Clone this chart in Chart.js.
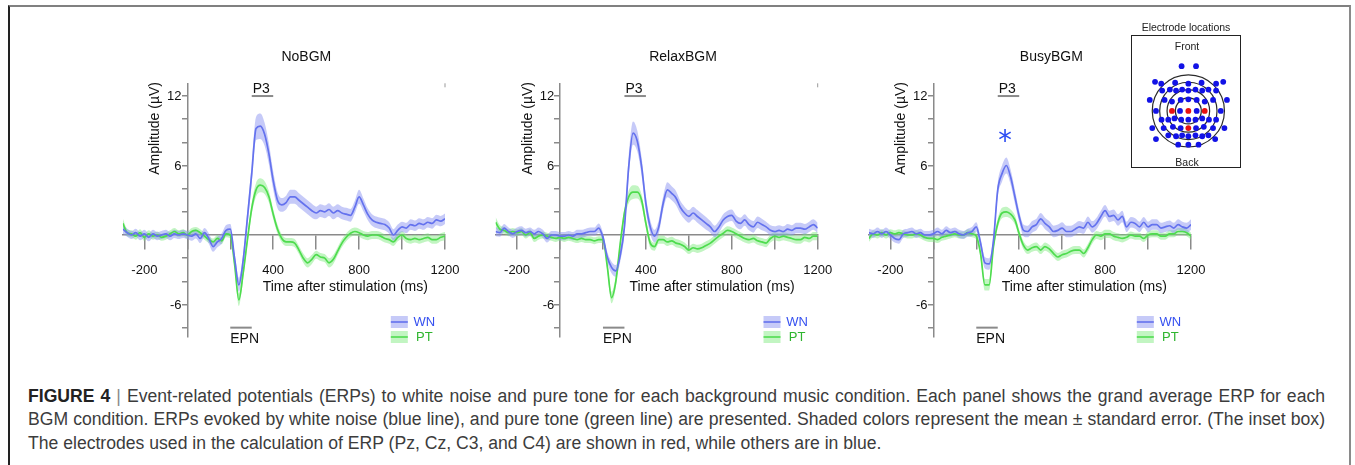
<!DOCTYPE html>
<html><head><meta charset="utf-8">
<script src="https://cdn.jsdelivr.net/npm/chart.js@4.4.1/dist/chart.umd.min.js"></script>
<style>
html,body{margin:0;padding:0;background:#fff;}
body{width:1355px;height:465px;overflow:hidden;position:relative;font-family:"Liberation Sans",Arial,sans-serif;}
#frame{position:absolute;left:8px;top:5px;width:1343px;height:480px;border-top:2px solid #808080;border-left:2px solid #222;border-right:2px solid #8a8a8a;box-sizing:border-box;}
canvas{position:absolute;}
#inset{position:absolute;left:1131px;top:35px;width:110px;height:133px;border:1.5px solid #222;box-sizing:border-box;background:#fff;}
.it{position:absolute;font-size:10.5px;color:#222;transform:translateX(-50%);white-space:nowrap;}
#caption{position:absolute;left:28px;top:385px;width:1297px;font-size:17.6px;line-height:23.3px;color:#3c3c3c;}
#caption div{white-space:nowrap;}
.j{text-align:justify;text-align-last:justify;}
</style></head>
<body>
<div id="frame"></div>
<canvas id="c0"></canvas><canvas id="c1"></canvas><canvas id="c2"></canvas>
<div class="it" style="left:1186px;top:21px;">Electrode locations</div>
<div id="inset"></div>
<canvas id="ci"></canvas>
<div class="it" style="left:1187px;top:40px;">Front</div>
<div class="it" style="left:1187px;top:156px;">Back</div>
<div id="caption">
<div class="j"><b style="color:#222">FIGURE 4</b> <span style="color:#888">|</span> Event-related potentials (ERPs) to white noise and pure tone for each background music condition. Each panel shows the grand average ERP for each</div>
<div class="j">BGM condition. ERPs evoked by white noise (blue line), and pure tone (green line) are presented. Shaded colors represent the mean ± standard error. (The inset box)</div>
<div>The electrodes used in the calculation of ERP (Pz, Cz, C3, and C4) are shown in red, while others are in blue.</div>
</div>
<script>
// ---------------- DATA ----------------
const times = [-300,-280,-260,-240,-220,-200,-180,-160,-140,-120,
 -100,-80,-60,-40,-20,0,20,40,60,80,
 100,120,140,160,180,200,220,240,260,280,
 300,320,340,360,380,400,420,440,460,480,
 500,520,540,560,580,600,620,640,660,680,
 700,720,740,760,780,800,820,840,860,880,
 900,920,940,960,980,1000,1020,1040,1060,1080,
 1100,1120,1140,1160,1180,1200];

const conditions = ['NoBGM','RelaxBGM','BusyBGM'];
const seriesNames = ['WN','PT'];

const noWN = [0.5,0.2,0.0,0.2,-0.1,0.1,-0.2,0.1,-0.1,0.0,
 0.1,-0.1,0.1,0.0,0.1,0.0,-0.1,0.1,-0.3,0.2,
 -0.3,-1.0,-0.6,-0.3,0.4,0.5,-2.0,-4.3,-2.2,1.5,
 5.3,9.2,9.4,8.7,7.0,4.7,3.0,2.6,2.8,3.3,
 3.3,3.0,2.7,2.4,2.1,1.9,2.1,2.0,2.2,1.9,
 2.1,1.9,1.8,1.7,2.4,3.3,2.6,1.8,1.3,1.1,
 1.0,0.9,0.6,0.0,0.4,0.7,0.6,0.9,0.8,1.0,
 0.9,1.1,1.0,1.3,1.2,1.4];
const noPT = [1.0,0.2,0.1,-0.1,0.2,-0.2,0.1,-0.1,0.0,-0.2,
 -0.1,0.1,0.3,0.1,0.2,0.0,0.3,0.4,0.2,-0.1,
 -0.4,-0.6,-0.3,-0.5,0.1,0.0,-2.5,-5.6,-3.3,-0.4,
 2.3,3.9,4.3,4.1,3.3,1.8,0.5,-0.3,-0.6,-0.6,
 -0.7,-1.3,-2.0,-2.4,-2.1,-1.7,-1.9,-2.0,-2.4,-2.1,
 -1.4,-0.7,-0.2,0.15,0.3,0.2,0.0,-0.1,0.0,0.0,
 -0.1,-0.3,-0.4,-0.6,-0.2,0.0,-0.3,-0.4,-0.3,-0.4,
 -0.3,-0.2,-0.4,-0.4,-0.2,-0.1];
const relaxWN = [0.3,0.2,0.6,0.3,0.1,0.3,0.4,0.2,0.3,0.1,
 0.3,0.1,-0.3,0.0,0.0,-0.1,-0.1,0.0,-0.1,0.1,
 0.1,0.2,0.3,0.3,0.6,-0.2,-1.9,-2.8,-3.1,-1.8,
 0.7,5.9,8.8,8.1,5.9,2.7,0.7,-0.1,0.7,2.7,
 3.9,3.6,3.2,2.4,1.9,1.6,1.9,1.6,1.3,1.0,
 0.7,0.3,0.7,1.3,1.6,1.7,1.2,1.0,1.3,0.9,
 0.7,1.1,0.9,0.7,0.4,0.3,0.4,0.3,0.5,0.4,
 0.6,0.6,0.5,0.7,0.9,0.6];
const relaxPT = [1.1,0.5,0.4,0.2,0.3,0.2,0.3,0.0,0.2,-0.3,
 -0.1,0.0,-0.1,-0.2,-0.3,-0.2,-0.3,-0.2,-0.3,-0.4,
 -0.3,-0.4,-0.4,-0.5,-0.4,-0.4,-2.7,-5.4,-4.0,-0.8,
 1.9,3.3,3.7,3.7,3.0,1.0,-0.7,-1.0,-0.4,-0.4,
 -0.6,-0.5,-0.7,-0.8,-1.0,-1.3,-1.1,-1.2,-1.1,-0.9,
 -0.7,-0.4,-0.1,0.15,0.4,0.3,0.1,-0.1,-0.3,-0.4,
 -0.3,-0.5,-0.6,-0.7,-0.3,-0.1,-0.2,-0.1,-0.2,-0.3,
 -0.4,-0.4,-0.2,-0.3,-0.1,-0.1];
const busyWN = [0.2,0.1,0.3,0.1,0.3,0.0,-0.3,-0.4,0.1,0.2,
 0.3,0.1,0.2,0.0,0.0,0.1,0.3,0.1,0.4,0.2,
 0.3,0.1,0.0,0.2,0.3,0.7,-0.7,-2.4,-2.5,-0.5,
 3.9,5.3,6.0,5.0,3.3,1.6,0.4,0.3,0.7,0.9,
 1.4,1.0,0.7,0.3,0.4,0.6,0.3,0.3,0.5,0.7,
 0.6,1.1,0.7,1.0,1.6,2.1,1.6,1.7,1.3,1.6,
 0.7,1.1,1.0,0.7,1.1,0.7,0.9,0.9,0.6,0.7,
 0.8,0.6,0.9,0.7,0.6,0.9];
const busyPT = [-0.3,0.1,0.0,0.2,0.0,0.2,0.1,0.2,0.1,0.0,
 0.0,0.1,0.0,-0.2,-0.3,-0.3,-0.4,-0.2,-0.1,0.0,
 0.1,0.0,0.0,0.2,0.1,-0.1,-1.6,-4.3,-4.3,-1.0,
 1.0,1.9,2.0,1.8,1.3,0.1,-0.9,-1.3,-1.1,-1.0,
 -1.3,-1.0,-1.2,-1.6,-1.9,-1.7,-1.6,-1.4,-1.3,-1.3,
 -1.6,-1.1,-0.4,0.0,-0.1,0.1,0.1,-0.1,-0.2,-0.3,
 -0.2,0.0,-0.1,-0.1,-0.3,0.0,0.1,0.1,-0.1,-0.1,
 0.1,0.1,0.3,0.3,0.2,-0.1];

// standard errors
const noWNse = [0.4,0.35,0.35,0.35,0.35,0.35,0.35,0.35,0.35,0.35,
 0.35,0.35,0.35,0.35,0.35,0.35,0.4,0.4,0.4,0.4,
 0.45,0.45,0.45,0.45,0.45,0.45,0.5,0.6,0.6,0.7,
 0.9,1.0,1.1,1.0,0.9,0.8,0.7,0.6,0.6,0.6,
 0.6,0.6,0.6,0.6,0.6,0.55,0.55,0.55,0.55,0.55,
 0.55,0.55,0.55,0.55,0.55,0.6,0.55,0.5,0.5,0.5,
 0.5,0.5,0.5,0.5,0.5,0.45,0.45,0.45,0.45,0.45,
 0.45,0.45,0.45,0.45,0.45,0.45];
const noPTse = [0.4,0.3,0.3,0.3,0.3,0.3,0.3,0.3,0.3,0.3,
 0.3,0.3,0.3,0.3,0.3,0.3,0.3,0.3,0.3,0.3,
 0.3,0.3,0.3,0.3,0.3,0.3,0.4,0.55,0.5,0.4,
 0.5,0.6,0.6,0.55,0.5,0.45,0.4,0.35,0.35,0.35,
 0.35,0.35,0.4,0.4,0.4,0.35,0.35,0.35,0.4,0.4,
 0.35,0.35,0.35,0.35,0.35,0.35,0.35,0.35,0.35,0.35,
 0.35,0.35,0.35,0.35,0.35,0.35,0.35,0.35,0.35,0.35,
 0.35,0.35,0.35,0.35,0.35,0.35];
const relaxWNse = [0.4,0.35,0.35,0.35,0.35,0.35,0.35,0.35,0.35,0.35,
 0.35,0.35,0.35,0.35,0.35,0.35,0.35,0.35,0.35,0.35,
 0.35,0.35,0.35,0.35,0.4,0.4,0.45,0.5,0.5,0.55,
 0.7,0.9,1.0,0.9,0.8,0.7,0.6,0.55,0.6,0.6,
 0.65,0.6,0.6,0.55,0.55,0.55,0.55,0.55,0.55,0.55,
 0.5,0.5,0.5,0.5,0.5,0.5,0.5,0.5,0.5,0.5,
 0.5,0.5,0.5,0.45,0.45,0.45,0.45,0.45,0.45,0.45,
 0.45,0.45,0.45,0.45,0.45,0.45];
const relaxPTse = [0.45,0.35,0.3,0.3,0.3,0.3,0.3,0.3,0.3,0.3,
 0.3,0.3,0.3,0.3,0.3,0.3,0.3,0.3,0.3,0.3,
 0.3,0.3,0.3,0.3,0.3,0.3,0.4,0.5,0.5,0.4,
 0.45,0.55,0.6,0.55,0.5,0.45,0.4,0.35,0.35,0.35,
 0.35,0.35,0.35,0.35,0.35,0.35,0.35,0.35,0.35,0.35,
 0.35,0.35,0.35,0.35,0.35,0.35,0.35,0.35,0.35,0.35,
 0.35,0.35,0.35,0.35,0.35,0.35,0.35,0.35,0.35,0.35,
 0.35,0.35,0.35,0.35,0.35,0.35];
const busyWNse = [0.35,0.35,0.35,0.35,0.35,0.35,0.35,0.35,0.35,0.35,
 0.35,0.35,0.35,0.35,0.35,0.35,0.35,0.35,0.35,0.35,
 0.35,0.35,0.35,0.35,0.4,0.4,0.45,0.5,0.5,0.5,
 0.6,0.7,0.7,0.65,0.6,0.5,0.5,0.5,0.5,0.5,
 0.5,0.5,0.5,0.5,0.5,0.5,0.5,0.5,0.5,0.5,
 0.5,0.5,0.5,0.5,0.5,0.5,0.5,0.5,0.5,0.5,
 0.45,0.45,0.45,0.45,0.45,0.45,0.45,0.45,0.45,0.45,
 0.45,0.45,0.45,0.45,0.45,0.45];
const busyPTse = [0.3,0.3,0.3,0.3,0.3,0.3,0.3,0.3,0.3,0.3,
 0.3,0.3,0.3,0.3,0.3,0.3,0.3,0.3,0.3,0.3,
 0.3,0.3,0.3,0.3,0.3,0.3,0.4,0.5,0.5,0.4,
 0.4,0.45,0.45,0.4,0.4,0.35,0.35,0.35,0.35,0.35,
 0.35,0.35,0.35,0.35,0.35,0.35,0.35,0.35,0.35,0.35,
 0.35,0.35,0.35,0.35,0.35,0.35,0.35,0.35,0.35,0.35,
 0.3,0.3,0.3,0.3,0.3,0.3,0.3,0.3,0.3,0.3,
 0.3,0.3,0.3,0.3,0.3,0.3];

const xTicks = [-200,0,200,400,600,800,1000,1200];
const xTickLabels = [-200,400,800,1200];
const yTicks = [-8,-6,-4,-2,0,2,4,6,8,10,12];
const yTickLabels = [12,6,-6];

// ERP component windows (ms) and the amplitude level where their bar is drawn
const componentNames = ['P3','EPN'];
const componentFrom = [300,200];
const componentTo = [400,300];
const componentLevel = [12,-8];

// significance marker: panel index, time (ms), amplitude
const sigPanel = [2];
const sigTime = [334];
const sigAmp = [8.6];

// electrode inset (px offsets from head centre; + = right / back)
const elecX = [-7.3,8.3,
 -36,-29.3,-14.3,0,14.3,30,37.7,
 -28.3,-20,-13.3,-6.7,0,7.7,15,21.7,30,
 -41.7,-25.7,-17.7,-8.3,0,9,17.7,26.7,41.7,
 -35,-9,9,35,
 -29,-21.7,-15,-7.7,0,7.7,15,22.3,30,
 -39,-26.7,-16.7,-8.3,8.3,16.7,26.7,39,
 -21.7,-13.3,-6.7,0,7.7,15,21.7,
 -35,29,
 -11,0,11];
const elecY = [-47.7,-47.7,
 -31,-29,-30,-29,-30,-29,-31,
 -21.7,-22.7,-21.7,-22.7,-21.7,-22.7,-21.7,-22.7,-21.7,
 -11.7,-11.7,-10,-11.7,-12.3,-11.7,-10,-11.7,-11.7,
 0,0,0,0,
 9.3,9.3,8,9.3,9.3,9.3,8,9.3,9.3,
 18.3,18.3,17,18.3,18.3,17,18.3,18.3,
 26,27,26,27,26,27,26,
 30,30,
 36,36,36];
const redX = [-17.7,0,17.7,0];
const redY = [0,0,0,18.3];
const ringR = [39,31,23,14];

// ---------------- LAYOUT / STYLE ----------------
const FONT = '"Liberation Sans", Arial, sans-serif';
Chart.defaults.font.family = FONT;
const AX0 = [187.3, 560, 933.3];       // pixel of t=0 for each panel
const PLOT_W = 322.1;                   // -300..1200 ms
const LEFT_OFF = 64.4;
const CW = 400, CH = 360, TOP = 83.3, BOT = 336.9;
const titleDx = [119, 123, 118];
const xTitleDx = [158, 152, 151];
const BLUE = 'rgba(100,114,238,1)', BLUE_BAND = 'rgba(135,145,240,0.48)';
const GREEN = 'rgba(78,220,78,1)', GREEN_BAND = 'rgba(120,232,120,0.45)';

const panelData = [[noWN,noWNse,noPT,noPTse],[relaxWN,relaxWNse,relaxPT,relaxPTse],[busyWN,busyWNse,busyPT,busyPTse]];

function pts(vals, se, sign){
  return times.map((t,i)=>({x:t, y: se ? vals[i] + sign*se[i] : vals[i]}));
}

const decor = {
  id:'decor',
  afterDraw(chart, args, o){
    const {ctx, scales:{x,y}, chartArea} = chart;
    const p = o.panel;
    const x0 = x.getPixelForValue(0);
    ctx.save();
    ctx.fillStyle = '#111';
    // y tick labels (right-aligned left of the tick marks)
    ctx.font = '13px ' + FONT; ctx.textAlign='right'; ctx.textBaseline='middle';
    yTickLabels.forEach(v=> ctx.fillText(String(v), x0 - 5.8, y.getPixelForValue(v) + 0.5));
    // panel title
    ctx.font = '14px ' + FONT; ctx.textAlign='center'; ctx.textBaseline='middle';
    ctx.fillText(conditions[p], x0 + titleDx[p], 57);
    // x title
    ctx.fillText('Time after stimulation (ms)', x0 + xTitleDx[p], 287);
    // y title
    ctx.save();
    ctx.translate(x0 - 32.3, 82);
    ctx.rotate(-Math.PI/2);
    ctx.textAlign='right';
    ctx.fillText('Amplitude (\u00B5V)', 0, 0);
    ctx.restore();
    // components
    ctx.strokeStyle = '#8a8a8a'; ctx.lineWidth = 2;
    componentNames.forEach((nm,k)=>{
      const xa = x.getPixelForValue(componentFrom[k]), xb = x.getPixelForValue(componentTo[k]);
      const yy = y.getPixelForValue(componentLevel[k]);
      ctx.beginPath(); ctx.moveTo(xa, yy); ctx.lineTo(xb, yy); ctx.stroke();
      ctx.textAlign='left'; ctx.textBaseline='alphabetic'; ctx.fillStyle='#111';
      ctx.font = '14px ' + FONT;
      if (componentLevel[k] > 0) ctx.fillText(nm, xa + 1, yy - 3);
      else ctx.fillText(nm, xa, yy + 15);
    });
    // small mark at top right
    ctx.strokeStyle='#999'; ctx.lineWidth=1;
    const xr = x.getPixelForValue(1200);
    ctx.beginPath(); ctx.moveTo(xr, chartArea.top); ctx.lineTo(xr, chartArea.top+4); ctx.stroke();
    // legend
    const lx = x0 + 203.5, lw = 17;
    [[BLUE_BAND, BLUE, 'WN', 322, '#3550f0'], [GREEN_BAND, GREEN, 'PT', 337, '#2fb52f']].forEach(([band, line, txt, cy, tc])=>{
      ctx.fillStyle = band; ctx.fillRect(lx, cy-6, lw, 12);
      ctx.strokeStyle = line; ctx.lineWidth = 1.6;
      ctx.beginPath(); ctx.moveTo(lx, cy); ctx.lineTo(lx+lw, cy); ctx.stroke();
      ctx.fillStyle = tc; ctx.font = '13px ' + FONT; ctx.textAlign='center'; ctx.textBaseline='middle';
      ctx.fillText(txt, x0 + 237, cy + 0.5);
    });
    // significance marks
    sigPanel.forEach((sp,k)=>{
      if (sp !== p) return;
      const cx = x.getPixelForValue(sigTime[k]), cy = y.getPixelForValue(sigAmp[k]);
      ctx.strokeStyle = '#2c4cf2'; ctx.lineWidth = 1.6;
      const r = 6.5;
      [90, 30, 150].forEach(a=>{
        const rad = a*Math.PI/180;
        ctx.beginPath(); ctx.moveTo(cx - r*Math.cos(rad), cy - r*Math.sin(rad));
        ctx.lineTo(cx + r*Math.cos(rad), cy + r*Math.sin(rad)); ctx.stroke();
      });
    });
    ctx.restore();
  }
};

for (let p=0;p<3;p++){
  const [wn, wnse, pt, ptse] = panelData[p];
  const cl = AX0[p] - LEFT_OFF;
  const left = Math.floor(cl) - 40;
  const cv = document.getElementById('c'+p);
  cv.width = CW; cv.height = CH;
  cv.style.left = left + 'px'; cv.style.top = '0px';
  const padL = cl - left;
  const line = {pointRadius:0, cubicInterpolationMode:'monotone', borderWidth:1.7, fill:false};
  const bandEdge = {pointRadius:0, cubicInterpolationMode:'monotone', borderWidth:0};
  new Chart(cv, {
    type:'line',
    data:{datasets:[
      Object.assign({label:'WN', data:pts(wn), borderColor:BLUE, order:0}, line),
      Object.assign({label:'PT', data:pts(pt), borderColor:GREEN, order:1}, line),
      Object.assign({label:'WN+', data:pts(wn,wnse,1), fill:'+1', backgroundColor:BLUE_BAND, borderColor:'transparent', order:2}, bandEdge),
      Object.assign({label:'WN-', data:pts(wn,wnse,-1), fill:false, borderColor:'transparent', order:3}, bandEdge),
      Object.assign({label:'PT+', data:pts(pt,ptse,1), fill:'+1', backgroundColor:GREEN_BAND, borderColor:'transparent', order:4}, bandEdge),
      Object.assign({label:'PT-', data:pts(pt,ptse,-1), fill:false, borderColor:'transparent', order:5}, bandEdge)
    ]},
    options:{
      responsive:false, animation:false, devicePixelRatio:1,
      layout:{padding:{left:padL, right:CW-padL-PLOT_W, top:TOP, bottom:CH-BOT}},
      plugins:{legend:{display:false}, tooltip:{enabled:false}, decor:{panel:p}},
      scales:{
        x:{type:'linear', min:-300, max:1200, position:{y:0},
          afterBuildTicks: s=>{ s.ticks = xTicks.map(v=>({value:v})); },
          ticks:{autoSkip:false, maxRotation:0, color:'#111', font:{size:13}, padding:14,
            callback:v=> xTickLabels.includes(v) ? String(v) : ''},
          grid:{drawOnChartArea:false, drawTicks:true, tickLength:14, color:'#8a8a8a', lineWidth:1.5},
          border:{display:true, color:'#8a8a8a', width:1.5}},
        y:{type:'linear', min:-8.8, max:13.1, position:{x:0},
          afterBuildTicks: s=>{ s.ticks = yTicks.map(v=>({value:v})); },
          ticks:{autoSkip:false, display:true, color:'rgba(0,0,0,0)', font:{size:13}, padding:2,
            callback:v=> ''},
          grid:{drawOnChartArea:false, drawTicks:true, tickLength:5, color:'#8a8a8a', lineWidth:1.5},
          border:{display:true, color:'#8a8a8a', width:1.5}}
      }
    },
    plugins:[decor]
  });
}

// inset electrode map
const ringPlugin = {
  id:'rings',
  beforeDatasetsDraw(chart){
    const {ctx, scales:{x,y}} = chart;
    const cx = x.getPixelForValue(0), cy = y.getPixelForValue(0);
    ctx.save(); ctx.strokeStyle='#2a2a2a'; ctx.lineWidth=1.2;
    ringR.forEach(r=>{
      const rp = x.getPixelForValue(r) - cx;
      ctx.beginPath(); ctx.arc(cx, cy, rp, 0, Math.PI*2); ctx.stroke();
    });
    ctx.restore();
  }
};
const ci = document.getElementById('ci');
ci.width = 107; ci.height = 130;
ci.style.left = '1132.5px'; ci.style.top = '36.5px';
new Chart(ci, {
  type:'scatter',
  data:{datasets:[
    {data: redX.map((v,i)=>({x:v,y:redY[i]})), backgroundColor:'#e81010', pointRadius:2.9, borderWidth:0, order:0},
    {data: elecX.map((v,i)=>({x:v,y:elecY[i]})), backgroundColor:'#1212e6', pointRadius:2.9, borderWidth:0, order:1}
  ]},
  options:{responsive:false, animation:false, devicePixelRatio:1,
    layout:{padding:0},
    plugins:{legend:{display:false}, tooltip:{enabled:false}},
    scales:{x:{display:false, min:-55.5, max:51.5}, y:{display:false, min:-74.5, max:55.5, reverse:true}}
  },
  plugins:[ringPlugin]
});
</script>
</body></html>
